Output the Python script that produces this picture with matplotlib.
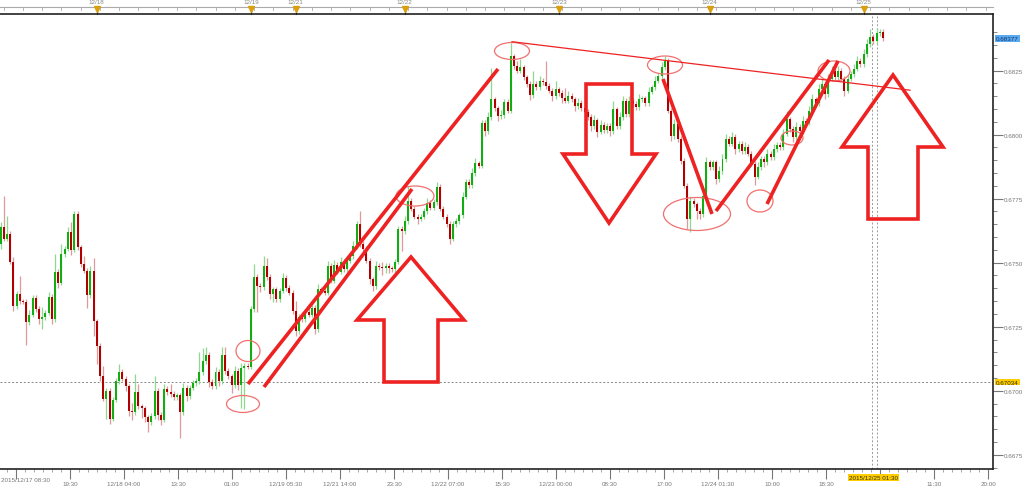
import numpy as np
import matplotlib.pyplot as plt
from matplotlib.patches import Ellipse, Polygon
from matplotlib.transforms import blended_transform_factory

# 30 min candles, 2015/12/17 08:30 .. 2015/12/25
first_open = 0.67573
closes = [
    0.67639, 0.67593, 0.67612, 0.67503, 0.67331, 0.67378, 0.67350, 0.67347, 0.67268, 0.67296,
    0.67362, 0.67319, 0.67280, 0.67288, 0.67304, 0.67366, 0.67280, 0.67464, 0.67421, 0.67534,
    0.67554, 0.67620, 0.67550, 0.67690, 0.67561, 0.67495, 0.67468, 0.67374, 0.67468, 0.67272,
    0.67175, 0.67057, 0.66968, 0.66999, 0.66890, 0.66964, 0.67038, 0.67073, 0.67046, 0.67018,
    0.66921, 0.66917, 0.66995, 0.66940, 0.66932, 0.66897, 0.66878, 0.66901, 0.66999, 0.66905,
    0.66886, 0.67007, 0.66995, 0.66987, 0.66975, 0.66983, 0.66917, 0.67011, 0.66979, 0.67011,
    0.67030, 0.67038, 0.67073, 0.67116, 0.67140, 0.67034, 0.67018, 0.67073, 0.67038, 0.67140,
    0.67077, 0.67057, 0.67022, 0.67077, 0.67022, 0.67089, 0.67097, 0.67093, 0.67319, 0.67444,
    0.67409, 0.67405, 0.67487, 0.67444, 0.67378, 0.67397, 0.67358, 0.67390, 0.67440, 0.67401,
    0.67382, 0.67311, 0.67233, 0.67288, 0.67280, 0.67307, 0.67296, 0.67323, 0.67241, 0.67397,
    0.67390, 0.67382, 0.67487, 0.67429, 0.67491, 0.67464, 0.67503, 0.67475, 0.67507, 0.67526,
    0.67565, 0.67651, 0.67573, 0.67554, 0.67507, 0.67436, 0.67409, 0.67487, 0.67483, 0.67480,
    0.67487, 0.67479, 0.67475, 0.67503, 0.67632, 0.67624, 0.67663, 0.67741, 0.67710, 0.67679,
    0.67671, 0.67679, 0.67702, 0.67733, 0.67714, 0.67737, 0.67796, 0.67710, 0.67679, 0.67651,
    0.67593, 0.67651, 0.67663, 0.67686, 0.67757, 0.67815, 0.67803, 0.67850, 0.67889, 0.67878,
    0.68046, 0.68014, 0.68069, 0.68139, 0.68104, 0.68073, 0.68077, 0.68128, 0.68093, 0.68307,
    0.68268, 0.68249, 0.68264, 0.68225, 0.68198, 0.68155, 0.68198, 0.68186, 0.68210, 0.68206,
    0.68190, 0.68171, 0.68151, 0.68178, 0.68163, 0.68143, 0.68132, 0.68151, 0.68139, 0.68112,
    0.68124, 0.68104, 0.68089, 0.68069, 0.68034, 0.68057, 0.68011, 0.68038, 0.68018, 0.68034,
    0.68014, 0.68100, 0.68034, 0.68069, 0.68132, 0.68081, 0.68132, 0.68120, 0.68108, 0.68139,
    0.68143, 0.68124, 0.68167, 0.68186, 0.68210, 0.68229, 0.68264, 0.68288, 0.68093, 0.67995,
    0.68042, 0.67983, 0.67897, 0.67800, 0.67671, 0.67741, 0.67729, 0.67702, 0.67690, 0.67761,
    0.67893, 0.67874, 0.67893, 0.67827, 0.67858, 0.67905, 0.67983, 0.67964, 0.67991, 0.67944,
    0.67964, 0.67936, 0.67952, 0.67925, 0.67886, 0.67835, 0.67874, 0.67905, 0.67893, 0.67925,
    0.67913, 0.67944, 0.67960, 0.67952, 0.68003, 0.68061, 0.68022, 0.67991, 0.68030, 0.68014,
    0.68054, 0.68046, 0.68093, 0.68139, 0.68124, 0.68178, 0.68198, 0.68159, 0.68218, 0.68249,
    0.68225, 0.68249, 0.68218, 0.68171, 0.68218, 0.68237, 0.68257, 0.68288, 0.68276, 0.68315,
    0.68354, 0.68382, 0.68366, 0.68397, 0.68401, 0.68377,
]
# wick lengths above / below the body, in pips
upper_wick = [
    2, 12, 7, 1, 2, 1, 7, 1, 1, 2, 1, 1, 1, 4, 1, 2, 1, 7, 1, 4,
    1, 2, 4, 1, 1, 1, 3, 1, 2, 5, 1, 1, 4, 1, 1, 1, 1, 3, 1, 1,
    1, 3, 7, 3, 1, 1, 1, 1, 6, 1, 1, 2, 1, 3, 1, 1, 1, 2, 1, 1,
    1, 1, 8, 5, 3, 1, 1, 2, 1, 3, 3, 1, 1, 2, 1, 2, 1, 1, 1, 5,
    1, 1, 4, 3, 1, 1, 1, 1, 2, 1, 1, 1, 4, 1, 2, 1, 2, 1, 1, 2,
    1, 1, 2, 1, 2, 1, 2, 1, 1, 1, 2, 1, 5, 1, 1, 1, 1, 2, 1, 2,
    1, 1, 1, 1, 1, 1, 2, 6, 1, 1, 1, 1, 1, 2, 1, 1, 2, 1, 1, 1,
    1, 1, 1, 1, 2, 1, 1, 2, 2, 1, 1, 1, 2, 12, 1, 1, 2, 1, 1, 5,
    1, 2, 3, 1, 1, 1, 5, 1, 2, 1, 8, 1, 1, 3, 1, 1, 4, 2, 1, 1,
    2, 1, 1, 1, 1, 2, 1, 2, 1, 1, 1, 3, 1, 2, 2, 1, 2, 1, 1, 2,
    1, 1, 2, 1, 2, 1, 2, 2, 1, 1, 2, 1, 1, 1, 1, 2, 1, 1, 1, 2,
    2, 1, 1, 1, 2, 2, 2, 1, 2, 1, 1, 1, 2, 1, 1, 1, 2, 1, 1, 2,
    1, 2, 1, 1, 2, 3, 1, 1, 2, 1, 2, 1, 2, 2, 1, 2, 2, 1, 2, 2,
    1, 2, 1, 1, 2, 1, 2, 2, 1, 2, 2, 3, 1, 2, 1, 1,
]
lower_wick = [
    2, 1, 1, 1, 2, 1, 1, 1, 9, 1, 1, 1, 2, 4, 1, 1, 2, 1, 2, 1,
    1, 1, 2, 1, 1, 1, 1, 5, 1, 6, 7, 2, 1, 8, 2, 1, 1, 1, 1, 2,
    2, 3, 1, 1, 4, 2, 4, 1, 1, 2, 2, 1, 1, 1, 1, 1, 10, 1, 2, 1,
    1, 1, 1, 1, 1, 2, 1, 1, 2, 1, 1, 1, 3, 1, 2, 9, 16, 1, 1, 1,
    10, 2, 1, 1, 2, 3, 1, 1, 1, 1, 1, 1, 2, 1, 1, 1, 1, 1, 2, 1,
    1, 1, 1, 1, 1, 1, 1, 1, 1, 1, 1, 1, 1, 1, 1, 2, 2, 1, 1, 3,
    2, 2, 1, 3, 1, 8, 1, 1, 1, 1, 2, 1, 1, 1, 1, 1, 1, 1, 1, 1,
    2, 1, 1, 1, 1, 1, 1, 1, 1, 1, 1, 2, 1, 1, 1, 2, 1, 1, 1, 1,
    1, 1, 1, 1, 1, 2, 1, 1, 1, 1, 1, 1, 2, 1, 1, 2, 1, 1, 1, 2,
    1, 1, 1, 1, 2, 1, 2, 1, 1, 1, 2, 1, 1, 1, 1, 1, 1, 1, 1, 1,
    1, 1, 1, 1, 1, 1, 1, 1, 1, 2, 1, 1, 1, 1, 4, 5, 1, 3, 2, 1,
    1, 1, 1, 2, 1, 1, 1, 1, 1, 2, 1, 1, 1, 1, 1, 3, 1, 1, 2, 1,
    1, 1, 1, 1, 1, 1, 1, 2, 1, 1, 1, 1, 1, 1, 1, 1, 1, 2, 1, 1,
    1, 1, 1, 2, 1, 1, 1, 1, 1, 1, 1, 1, 1, 1, 1, 1,
]

ref_price = 0.67034
current_idx = 272
day_labels = ['12/18', '12/19', '12/21', '12/22', '12/23', '12/24', '12/25']
day_idx = [30, 78, 92, 126, 174, 221, 269]
time_labels = ['2015/12/17 08:30', '19:30', '12/18 04:00', '13:30', '01:00', '12/19 05:30',
               '12/21 14:00', '23:30', '12/22 07:00', '15:30', '12/23 00:00', '08:30',
               '17:00', '12/24 01:30', '10:00', '18:30', '', '11:30', '20:00']
current_label = '2015/12/25 01:30'

W, H = 1024, 489
fig = plt.figure(figsize=(W / 100, H / 100), dpi=100)
plt.rcParams['font.family'] = ['Liberation Sans', 'DejaVu Sans']
ax = fig.add_axes([0, 19 / H, 993 / W, 455 / H])

opens = [first_open] + closes[:-1]
n = len(closes)
green, red = '#12ad12', '#b00000'
for i in range(n):
    o, c = opens[i], closes[i]
    up = c >= o
    hi = max(o, c) + upper_wick[i] * 1e-4
    lo = min(o, c) - lower_wick[i] * 1e-4
    ax.vlines(i, lo, hi, color='#8fd88f' if up else '#df9a9a', lw=0.9, zorder=2)
    ax.bar(i, max(abs(c - o), 0.00003), bottom=min(o, c), width=0.62,
           color=green if up else red, lw=0, zorder=3)

# reference lines
ax.axhline(ref_price, color='#888888', lw=0.7, ls=(0, (2, 2)), zorder=1)
ax.axvline(current_idx - 0.3, color='#999999', lw=0.7, ls=(0, (2, 2)), zorder=1)
ax.axvline(current_idx + 1.0, color='#999999', lw=0.7, ls=(0, (2, 2)), zorder=1)

# axes / ticks
ax.spines['left'].set_visible(False)
for s in ['top', 'right', 'bottom']:
    ax.spines[s].set_color('#222222')
    ax.spines[s].set_linewidth(1.2)
ax.yaxis.tick_right()
ax.set_yticks(np.arange(0.6675, 0.6826, 0.0025))
ax.set_yticks(np.arange(0.6670, 0.6845, 0.0005), minor=True)
ax.yaxis.set_major_formatter(plt.FormatStrFormatter('%.4f'))
ax.tick_params(axis='y', which='major', length=7, width=0.8, color='#777777',
               labelsize=4.5, labelcolor='#777777', pad=1)
ax.tick_params(axis='y', which='minor', length=3, width=0.6, color='#777777')

major_x = 4.83 + 16.83 * np.arange(len(time_labels))
ax.set_xticks(major_x)
ax.set_xticklabels([''] + time_labels[1:])
ax.set_xticks(np.arange(4.83 - 16.83, 310, 16.83 / 6), minor=True)
ax.tick_params(axis='x', which='major', length=7, width=0.8, color='#777777',
               labelsize=4.5, labelcolor='#777777', pad=1.5)
ax.tick_params(axis='x', which='minor', length=2.5, width=0.6, color='#999999')

# limits last: set_xticks widens the view otherwise
ax.set_xlim(-0.16, 309.3)
ax.set_ylim(0.666942, 0.684714)

tb = blended_transform_factory(ax.transData, ax.transAxes)
ax.text(0.001, -0.0175, time_labels[0], transform=ax.transAxes, ha='left', va='top',
        fontsize=4.5, color='#777777')

# top band with day separators
ax.plot([0, 1], [1.0154, 1.0154], transform=ax.transAxes, color='#aaaaaa', lw=0.8, clip_on=False)
for t in np.arange(1, 310, 6):
    ax.plot([t, t], [1.0154, 1.009], transform=tb, color='#aaaaaa', lw=0.6, clip_on=False)
for lab, d in zip(day_labels, day_idx):
    ax.plot([d, d], [1.0, 1.012], transform=tb, color='#333333', lw=0.8, clip_on=False)
    ax.plot(d, 1.0105, marker='v', ms=4, color='#d9a010', transform=tb, clip_on=False)
    ax.text(d, 1.022, lab, transform=tb, ha='center', va='bottom', fontsize=4.5, color='#888888')
ax.set_xlim(-0.16, 309.3)
ax.set_ylim(0.666942, 0.684714)

# price tags
yt = blended_transform_factory(ax.transAxes, ax.transData)
ax.text(1.003, closes[-1], f'{closes[-1]:.5f}', transform=yt,
        va='center', ha='left', fontsize=4.5, color='#113366',
        bbox=dict(boxstyle='square,pad=0.15', fc='#5aaaf0', ec='none'))
ax.text(1.003, ref_price, f'{ref_price:.5f}', transform=yt,
        va='center', ha='left', fontsize=4.5, color='#333300',
        bbox=dict(boxstyle='square,pad=0.15', fc='#ffcc00', ec='none'))
ax.text(current_idx, -0.013, current_label, transform=tb, ha='center', va='top', fontsize=4.5,
        color='#333300', bbox=dict(boxstyle='square,pad=0.15', fc='#ffcc00', ec='none'))

# hand-drawn annotations (figure pixels)
ov = fig.add_axes([0, 0, 1, 1])
ov.set_xlim(0, W)
ov.set_ylim(H, 0)
ov.axis('off')
ann = '#ee2222'
thin = '#f07070'
for (x0, y0, x1, y1) in [(248, 385, 498, 70), (264, 388, 412, 190),
                          (663, 80, 712, 215), (716, 212, 829, 61), (767, 205, 838, 62)]:
    ov.plot([x0, x1], [y0, y1], color=ann, lw=2.6, solid_capstyle='butt')
ov.plot([512, 910], [42.7, 91.2], color=ann, lw=0.9)
for (cx, cy, w, h) in [(248, 352, 24, 21), (243, 405, 33, 17), (415, 197, 38, 20),
                       (512, 52, 35, 17), (665, 66, 35, 18), (697, 215, 67, 33),
                       (760, 202, 26, 22), (792, 139, 22, 14), (834, 72, 32, 20)]:
    ov.add_patch(Ellipse((cx, cy), w, h, fill=False, ec=thin, lw=0.9))
arrows = [
    [(384, 383), (384, 321), (357, 321), (411, 258), (464, 321), (438, 321), (438, 383)],
    [(586, 85), (632, 85), (632, 155), (656, 155), (609, 224), (563, 155), (586, 155)],
    [(868, 220), (868, 148), (842, 148), (893, 76), (943, 148), (918, 148), (918, 220)],
]
for pts in arrows:
    ov.add_patch(Polygon(pts, closed=True, fill=False, ec=ann, lw=2.6, joinstyle='miter'))

fig.savefig('out.png', dpi=100)
